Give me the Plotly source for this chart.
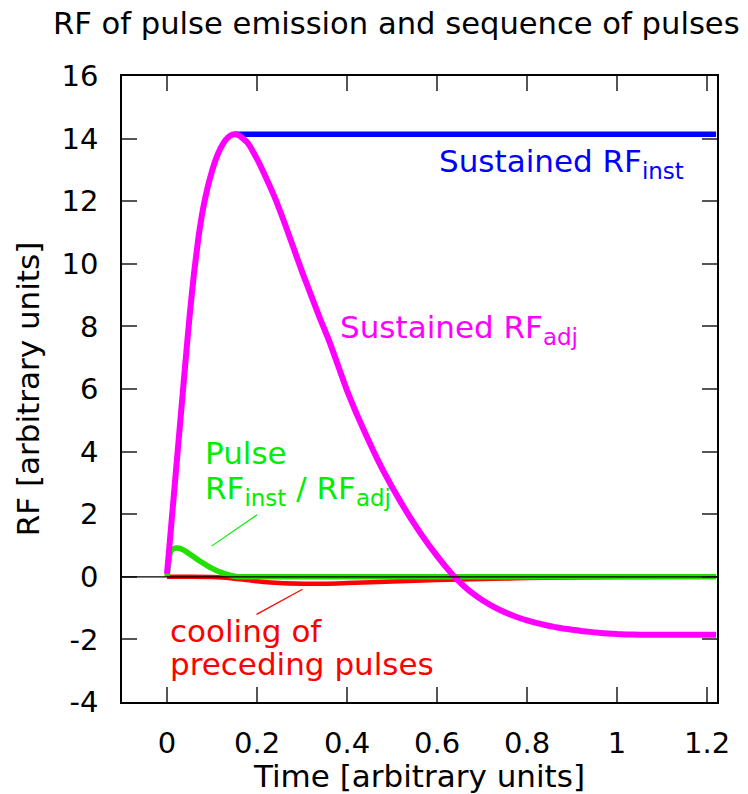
import plotly.graph_objects as go

# ---- data ----
adj_x = [0, 0.01, 0.02, 0.03, 0.04, 0.05, 0.06, 0.07, 0.08, 0.09, 0.10, 0.11, 0.12, 0.13,
         0.14, 0.15, 0.16, 0.18, 0.20, 0.22, 0.24, 0.26, 0.28, 0.30, 0.32, 0.34, 0.36,
         0.38, 0.40, 0.42, 0.44, 0.46, 0.48, 0.50, 0.52, 0.54, 0.56, 0.58, 0.60, 0.62,
         0.64, 0.66, 0.68, 0.70, 0.72, 0.74, 0.76, 0.78, 0.80, 0.82, 0.84, 0.86, 0.88,
         0.90, 0.92, 0.94, 0.96, 0.98, 1.00, 1.02, 1.05, 1.22]
adj_y = [0.1, 1.75, 3.4, 5.05, 6.7, 8.3, 9.7, 10.85, 11.75, 12.42, 12.96, 13.4, 13.72, 13.95,
         14.09, 14.14, 14.1, 13.85, 13.35, 12.75, 12.1, 11.35, 10.55, 9.75, 9.0, 8.25, 7.55,
         6.75, 5.95, 5.25, 4.6, 3.98, 3.4, 2.87, 2.37, 1.9, 1.46, 1.05, 0.67, 0.31,
         -0.02, -0.3, -0.54, -0.74, -0.91, -1.06, -1.19, -1.3, -1.39, -1.47, -1.54, -1.6, -1.65,
         -1.69, -1.73, -1.76, -1.79, -1.81, -1.83, -1.84, -1.85, -1.85]

inst_x = [0.15, 1.22]
inst_y = [14.14, 14.14]

pulse_x = [0, 0.008, 0.015, 0.022, 0.03, 0.04, 0.05, 0.06, 0.07, 0.08, 0.09, 0.10, 0.11,
           0.12, 0.13, 0.14, 0.15, 0.16, 0.20, 1.22]
pulse_y = [0, 0.8, 0.9, 0.92, 0.9, 0.83, 0.73, 0.63, 0.53, 0.44, 0.35, 0.27, 0.2,
           0.14, 0.09, 0.05, 0.02, 0, 0, 0]

cool_x = [0, 0.05, 0.10, 0.15, 0.20, 0.25, 0.30, 0.35, 0.40, 0.50, 0.60, 0.70, 0.80, 0.90, 1.00, 1.22]
cool_y = [0, 0, -0.01, -0.06, -0.14, -0.2, -0.22, -0.22, -0.2, -0.15, -0.1, -0.07, -0.04, -0.02, -0.01, 0]

x_ticks = [0, 0.2, 0.4, 0.6, 0.8, 1, 1.2]
x_tick_text = ["0", "0.2", "0.4", "0.6", "0.8", "1", "1.2"]
y_ticks = [-4, -2, 0, 2, 4, 6, 8, 10, 12, 14, 16]
y_tick_text = ["-4", "-2", "0", "2", "4", "6", "8", "10", "12", "14", "16"]

title_text = "RF of pulse emission and sequence of pulses"
x_title = "Time [arbitrary units]"
y_title = "RF [arbitrary units]"

# callout pointer segments (data coords)
pulse_ptr = [(0.099, 0.98), (0.2, 1.98)]
cool_ptr = [(0.199, -1.2), (0.301, -0.40)]

FONT = "DejaVu Sans"
FS = 31
TFS = 29


def sub(t):
    return '<sub><span style="font-size:23px">%s</span></sub>' % t


fig = go.Figure()
fig.add_trace(go.Scatter(x=inst_x, y=inst_y, mode="lines",
                         line=dict(color="#0000ff", width=5.5), showlegend=False))
fig.add_trace(go.Scatter(x=cool_x, y=cool_y, mode="lines",
                         line=dict(color="#ff0000", width=4.5, shape="spline", smoothing=0.8),
                         showlegend=False))
fig.add_trace(go.Scatter(x=pulse_x, y=pulse_y, mode="lines",
                         line=dict(color="#22e000", width=5.5, shape="spline", smoothing=0.5),
                         showlegend=False))
fig.add_trace(go.Scatter(x=adj_x, y=adj_y, mode="lines",
                         line=dict(color="#ff00ff", width=6, shape="spline", smoothing=0.4),
                         showlegend=False))

# zero line drawn above the curves
fig.add_shape(type="line", xref="x domain", yref="y", x0=0, x1=1, y0=0, y1=0,
              line=dict(color="black", width=1.3), layer="above")
for (p0, p1), col in ((pulse_ptr, "#00ee00"), (cool_ptr, "#ff0000")):
    fig.add_shape(type="line", xref="x", yref="y", x0=p0[0], y0=p0[1], x1=p1[0], y1=p1[1],
                  line=dict(color=col, width=1.2), layer="above")

ann = [
    ("Sustained RF" + sub("inst"), 0.600, 13.2, "#0000ff"),
    ("Sustained RF" + sub("adj"), 0.380, 7.9, "#ff00ff"),
    ("Pulse", 0.080, 3.95, "#00ee00"),
    ("RF" + sub("inst") + " / RF" + sub("adj"), 0.080, 2.75, "#00ee00"),
    ("cooling of", 0.002, -1.72, "#ff0000"),
    ("preceding pulses", 0.002, -2.8, "#ff0000"),
]
for t, x, y, c in ann:
    fig.add_annotation(x=x, y=y, xref="x", yref="y", text=t, showarrow=False,
                       xanchor="left", yanchor="middle",
                       font=dict(family=FONT, size=FS, color=c))

axis_common = dict(showline=True, linecolor="black", linewidth=1.5, mirror="allticks",
                   ticks="inside", ticklen=15, tickwidth=1.5, tickcolor="#555",
                   showgrid=False, zeroline=False,
                   tickfont=dict(family=FONT, size=TFS, color="black"))

fig.update_layout(
    width=748, height=794,
    margin=dict(l=122, r=31, t=76, b=88),
    paper_bgcolor="white", plot_bgcolor="white",
    title=dict(text=title_text, x=53 / 748, xanchor="left", xref="container",
               y=1 - 23 / 794, yanchor="middle", yref="container",
               font=dict(family=FONT, size=30.6, color="black")),
    xaxis=dict(range=[-0.1, 1.222], tickvals=x_ticks, ticktext=x_tick_text,
               title=dict(text=x_title, font=dict(family=FONT, size=FS, color="black"), standoff=1),
               ticklabelstandoff=14, **axis_common),
    yaxis=dict(range=[-4, 16], tickvals=y_ticks, ticktext=y_tick_text,
               title=dict(text=y_title, font=dict(family=FONT, size=FS, color="black"), standoff=13),
               ticklabelstandoff=16, **axis_common),
    showlegend=False,
)

fig.write_html("out.html")
